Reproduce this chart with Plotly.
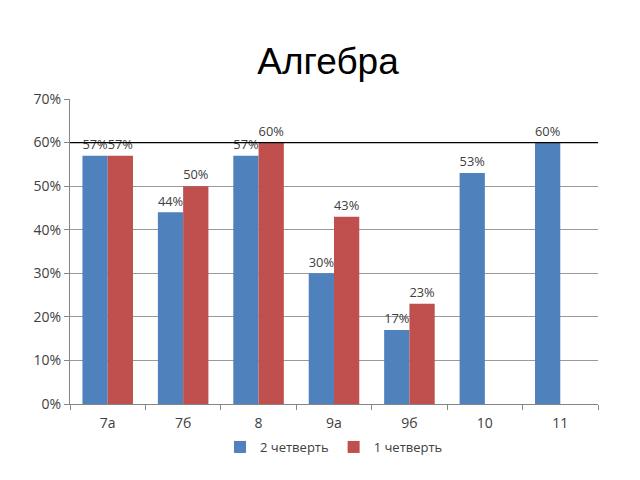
import plotly.graph_objects as go

categories = ["7а", "7б", "8", "9а", "9б", "10", "11"]
q2_values = [57, 44, 57, 30, 17, 53, 60]
q1_values = [57, 50, 60, 43, 23, None, None]
q2_name = "2 четверть"
q1_name = "1 четверть"
tick_vals = [0, 10, 20, 30, 40, 50, 60, 70]
tick_text = [f"{v}%" for v in tick_vals]
ref_value = 60

def labels(vals):
    return [f"{v}%" if v is not None else "" for v in vals]

fig = go.Figure()
fig.add_trace(go.Bar(
    x=categories, y=q2_values, name=q2_name,
    marker=dict(color="#4F81BD", line=dict(width=0)),
    text=labels(q2_values), textposition="outside", cliponaxis=False,
    textfont=dict(size=14, color="#404040"),
))
fig.add_trace(go.Bar(
    x=categories, y=q1_values, name=q1_name,
    marker=dict(color="#C0504D", line=dict(width=0)),
    text=labels(q1_values), textposition="outside", cliponaxis=False,
    textfont=dict(size=14, color="#404040"),
))

fig.add_shape(type="line", xref="paper", x0=0, x1=1, yref="y", y0=ref_value, y1=ref_value,
              line=dict(color="#000000", width=1.2))

fig.update_layout(
    width=640, height=480,
    paper_bgcolor="white", plot_bgcolor="white",
    margin=dict(l=62, r=50, t=91, b=84, autoexpand=False),
    barmode="group", bargap=0.33, bargroupgap=0,
    title=dict(text="Алгебра", x=0.5, xanchor="center", y=0.89, yanchor="middle",
               font=dict(family="Liberation Sans, Arial", size=37, color="#000000")),
    font=dict(family="Open Sans, Liberation Sans", size=14, color="#404040"),
    legend=dict(orientation="h", x=0.5, xanchor="center", y=-0.141, yanchor="middle",
                font=dict(size=13, color="#404040"), itemwidth=30,
                traceorder="normal"),
    xaxis=dict(showline=True, linecolor="#868686", ticks="outside", tickson="boundaries",
               ticklen=5, tickcolor="#868686", showgrid=False, automargin=False,
               ticklabelstandoff=6,
               tickfont=dict(size=14, color="#404040")),
    yaxis=dict(range=[0, 70], tickvals=tick_vals, ticktext=tick_text,
               showline=True, linecolor="#868686", ticks="outside", ticklen=5,
               tickcolor="#868686", gridcolor="#9a9a9a", gridwidth=1, automargin=False,
               zeroline=False, tickfont=dict(size=14, color="#404040")),
)

fig.write_html("out.html")
